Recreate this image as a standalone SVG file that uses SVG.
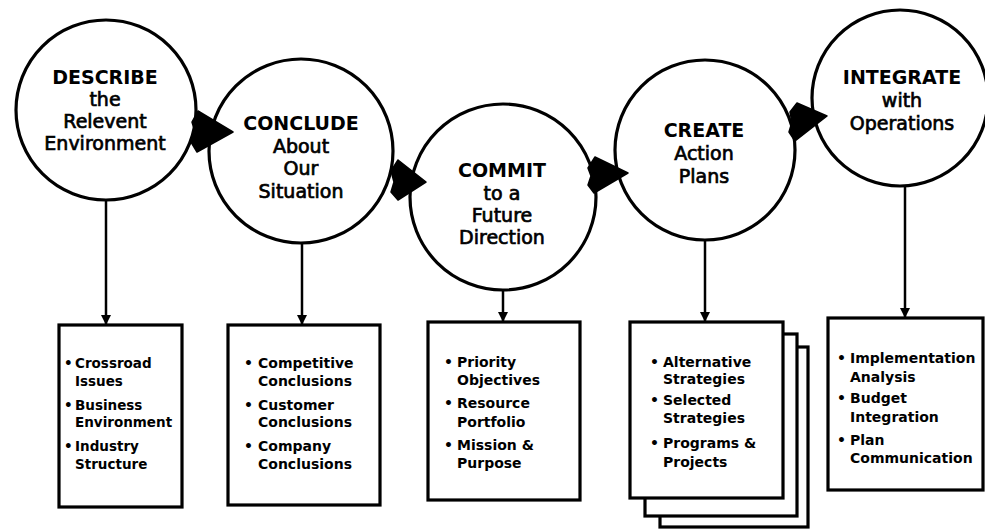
<svg xmlns="http://www.w3.org/2000/svg" width="985" height="529" viewBox="0 0 985 529">
  <style>
    .stage { fill: #fff; stroke: #000; stroke-width: 3.2; }
    .box { fill: #fff; stroke: #000; stroke-width: 3.2; }
    .title { font-family: "DejaVu Sans", "Liberation Sans", sans-serif; font-weight: bold; font-size: 19px; text-anchor: middle; fill: #000; }
    .sub { font-family: "DejaVu Sans", "Liberation Sans", sans-serif; font-size: 19px; text-anchor: middle; fill: #000; stroke: #000; stroke-width: 0.7; }
    .item { font-family: "DejaVu Sans", "Liberation Sans", sans-serif; font-weight: bold; font-size: 14px; fill: #000; }
    .item.narrow { font-size: 13.5px; }
    .link { stroke: #000; stroke-width: 2.5; fill: none; }
    .head { fill: #000; stroke: #000; stroke-width: 1.5; stroke-linejoin: round; }
  </style>
  <defs>
    <marker id="tip" viewBox="0 0 10 12" refX="10" refY="6" markerWidth="10" markerHeight="12" markerUnits="userSpaceOnUse" orient="auto">
      <path d="M0,1 L10,6 L0,11 Z" fill="#000"/>
    </marker>
  </defs>

  <rect width="985" height="529" fill="#fff"/>

  <!-- stage circles -->
  <g id="describe">
    <circle class="stage" cx="106" cy="110" r="90"/>
    <text class="title" x="105" y="84">DESCRIBE</text>
    <text class="sub" x="105" y="106">the</text>
    <text class="sub" x="105" y="128">Relevent</text>
    <text class="sub" x="105" y="150">Environment</text>
  </g>
  <g id="conclude">
    <circle class="stage" cx="301" cy="151" r="92"/>
    <text class="title" x="301" y="130">CONCLUDE</text>
    <text class="sub" x="301" y="153">About</text>
    <text class="sub" x="301" y="175">Our</text>
    <text class="sub" x="301" y="198">Situation</text>
  </g>
  <g id="commit">
    <circle class="stage" cx="503" cy="197" r="93"/>
    <text class="title" x="502" y="177">COMMIT</text>
    <text class="sub" x="502" y="200">to a</text>
    <text class="sub" x="502" y="222">Future</text>
    <text class="sub" x="502" y="244">Direction</text>
  </g>
  <g id="create">
    <circle class="stage" cx="705" cy="150" r="90"/>
    <text class="title" x="704" y="137">CREATE</text>
    <text class="sub" x="704" y="160">Action</text>
    <text class="sub" x="704" y="183">Plans</text>
  </g>
  <g id="integrate">
    <circle class="stage" cx="900" cy="98" r="88"/>
    <text class="title" x="902" y="84">INTEGRATE</text>
    <text class="sub" x="902" y="107">with</text>
    <text class="sub" x="902" y="130">Operations</text>
  </g>

  <!-- connectors: stage-to-stage arrowheads and stage-to-output drops -->
  <g id="connectors">
    <polygon class="head" points="192,122 198,111 233,132 197,152 191,142 195,132"/>
    <polygon class="head" points="391,171 398,160 426,182 398,200 391,192 394,182"/>
    <polygon class="head" points="588,168 595,157 628,173 594,193 588,185 591,176"/>
    <polygon class="head" points="790,112 797,103 827,116 795,141 789,132 792,122"/>

    <line class="link" x1="106" y1="200" x2="106" y2="325" marker-end="url(#tip)"/>
    <line class="link" x1="302" y1="243" x2="302" y2="325" marker-end="url(#tip)"/>
    <line class="link" x1="503" y1="290" x2="503" y2="322" marker-end="url(#tip)"/>
    <line class="link" x1="705" y1="240" x2="705" y2="322" marker-end="url(#tip)"/>
    <line class="link" x1="905" y1="186" x2="905" y2="318" marker-end="url(#tip)"/>
  </g>

  <!-- output boxes -->
  <g id="out-describe">
    <rect class="box" x="59" y="325" width="123" height="182"/>
    <text class="item narrow" x="64" y="368">•</text>
    <text class="item narrow" x="75" y="368">Crossroad</text>
    <text class="item narrow" x="75" y="386">Issues</text>
    <text class="item narrow" x="64" y="410">•</text>
    <text class="item narrow" x="75" y="410">Business</text>
    <text class="item narrow" x="75" y="427">Environment</text>
    <text class="item narrow" x="64" y="451">•</text>
    <text class="item narrow" x="75" y="451">Industry</text>
    <text class="item narrow" x="75" y="469">Structure</text>
  </g>
  <g id="out-conclude">
    <rect class="box" x="228" y="325" width="152" height="180"/>
    <text class="item" x="244" y="368">•</text>
    <text class="item" x="258" y="368">Competitive</text>
    <text class="item" x="258" y="386">Conclusions</text>
    <text class="item" x="244" y="410">•</text>
    <text class="item" x="258" y="410">Customer</text>
    <text class="item" x="258" y="427">Conclusions</text>
    <text class="item" x="244" y="451">•</text>
    <text class="item" x="258" y="451">Company</text>
    <text class="item" x="258" y="469">Conclusions</text>
  </g>
  <g id="out-commit">
    <rect class="box" x="428" y="322" width="152" height="178"/>
    <text class="item" x="444" y="367">•</text>
    <text class="item" x="457" y="367">Priority</text>
    <text class="item" x="457" y="385">Objectives</text>
    <text class="item" x="444" y="408">•</text>
    <text class="item" x="457" y="408">Resource</text>
    <text class="item" x="457" y="427">Portfolio</text>
    <text class="item" x="444" y="450">•</text>
    <text class="item" x="457" y="450">Mission &amp;</text>
    <text class="item" x="457" y="468">Purpose</text>
  </g>
  <g id="out-create">
    <rect class="box" x="660" y="347" width="148" height="180"/>
    <rect class="box" x="645" y="334" width="152" height="182"/>
    <rect class="box" x="630" y="322" width="153" height="176"/>
    <text class="item" x="650" y="367">•</text>
    <text class="item" x="663" y="367">Alternative</text>
    <text class="item" x="663" y="384">Strategies</text>
    <text class="item" x="650" y="405">•</text>
    <text class="item" x="663" y="405">Selected</text>
    <text class="item" x="663" y="423">Strategies</text>
    <text class="item" x="650" y="448">•</text>
    <text class="item" x="663" y="448">Programs &amp;</text>
    <text class="item" x="663" y="467">Projects</text>
  </g>
  <g id="out-integrate">
    <rect class="box" x="828" y="318" width="155" height="172"/>
    <text class="item" x="837" y="363">•</text>
    <text class="item" x="850" y="363">Implementation</text>
    <text class="item" x="850" y="382">Analysis</text>
    <text class="item" x="837" y="403">•</text>
    <text class="item" x="850" y="403">Budget</text>
    <text class="item" x="850" y="422">Integration</text>
    <text class="item" x="837" y="445">•</text>
    <text class="item" x="850" y="445">Plan</text>
    <text class="item" x="850" y="463">Communication</text>
  </g>
</svg>
